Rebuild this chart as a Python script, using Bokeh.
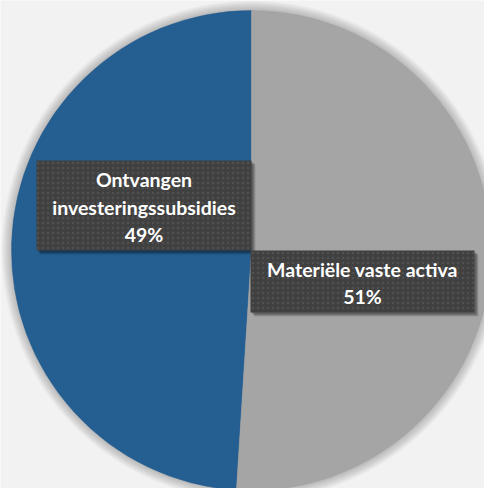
import math
from bokeh.plotting import figure
from bokeh.models import Range1d
from bokeh.embed import file_html
from bokeh.resources import INLINE
from bokeh.core.properties import value

# ---- data ----
categories = ["Ontvangen investeringssubsidies", "Materiële vaste activa"]
shares = [49, 51]
colors = ["#255E91", "#A5A5A5"]
label_lines = [["Ontvangen", "investeringssubsidies"], ["Materiële vaste activa"]]

# ---- layout constants ----
W, H = 484, 488
cx, cy, R = 251, 238, 240
# label box offsets from pie centre (dx, dy, width, height)
label_boxes = [(-107.5, 45, 215, 90), (111, -31, 224, 62)]
LINE_H = 27.7
FONT = "Lato"

p = figure(width=W, height=H, x_range=Range1d(0, W), y_range=Range1d(0, H),
           output_backend="svg", toolbar_location=None, min_border=0)
p.axis.visible = False
p.grid.visible = False
p.outline_line_color = None
p.background_fill_color = "#F2F2F2"
p.border_fill_color = "#F2F2F2"

# soft shadow around the pie
for k in range(10, 0, -1):
    p.circle(x=cx, y=cy, radius=R + k, fill_color="#000000", fill_alpha=0.022,
             line_color=None)

total = sum(shares)
start = math.pi / 2
for name, s, c in zip(categories, shares, colors):
    end = start + 2 * math.pi * s / total
    p.wedge(x=cx, y=cy, radius=R, start_angle=start, end_angle=end,
            direction="anticlock", fill_color=c, line_color=c, line_width=0.5)
    start = end

# labels
for name, s, lines, (dx, dy, bw, bh) in zip(categories, shares, label_lines, label_boxes):
    bx, by = cx + dx, cy + dy
    # shadow
    for k, a in ((4, 0.12), (3, 0.15), (2, 0.2)):
        p.rect(x=bx + k, y=by - k, width=bw, height=bh, fill_color="#000000",
               fill_alpha=a, line_color=None)
    p.rect(x=bx, y=by, width=bw, height=bh, fill_color="#404040", line_color=None,
           hatch_pattern="dot", hatch_color="#505050", hatch_scale=5, hatch_weight=1)
    all_lines = lines + [f"{s}%"]
    n = len(all_lines)
    ys = [by + LINE_H * ((n - 1) / 2 - i) - 1.5 for i in range(n)]
    p.text(x=[bx] * n, y=ys, text=all_lines, text_align="center",
           text_baseline="middle", text_color="white", text_font=value(FONT),
           text_font_style="bold", text_font_size="19.5px")

open("out.html", "w").write(file_html(p, INLINE))
